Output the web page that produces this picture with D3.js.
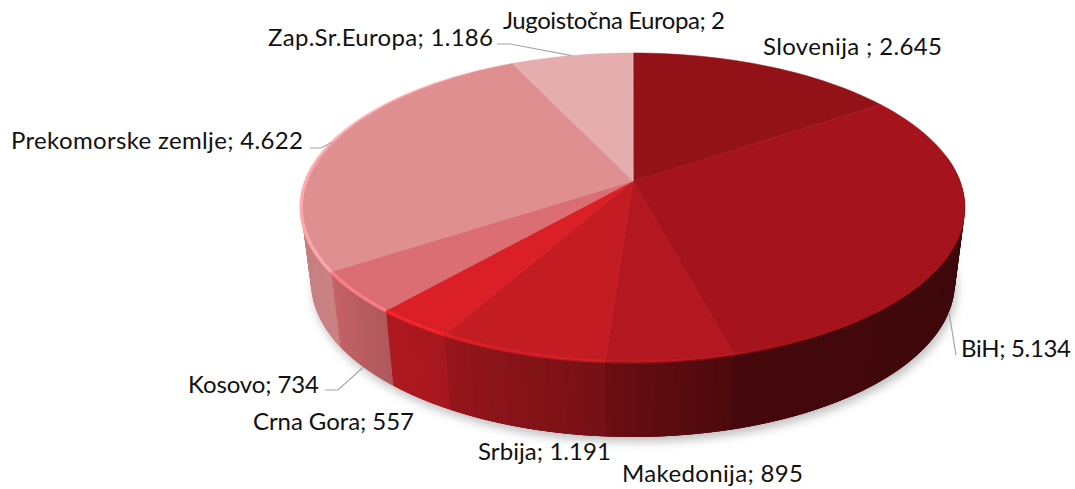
<!DOCTYPE html>
<html>
<head>
<meta charset="utf-8">
<script src="https://cdn.jsdelivr.net/npm/d3@7"></script>
<style>
  html, body { margin: 0; padding: 0; background: #fff; }
  svg { display: block; }
  text { font-family: Lato, "Open Sans", sans-serif; font-size: 24px; fill: #111; }
</style>
</head>
<body>
<script>
// Data
var categories = ["Slovenija ", "BiH", "Makedonija", "Srbija", "Crna Gora", "Kosovo", "Prekomorske zemlje", "Zap.Sr.Europa", "Jugoistočna Europa"];
var values = [2645, 5134, 895, 1191, 557, 734, 4622, 1186, 2];
var sliceColors = ["#921217", "#a5141d", "#b3171f", "#c41c23", "#da1f27", "#db6e72", "#e08f91", "#e5adae", "#e8b8b8"];

// Label placement: left edge, baseline and width of each label, same order as categories
var labelX = [763, 961, 622, 478, 253, 188, 11, 268, 503];
var labelY = [55, 357, 482, 460, 430, 393, 149, 46, 29];
var labelWidth = [179, 110, 181, 133, 161, 131, 292, 225, 222];

// Leader lines: which slice, the rim it ends on, and the free end of the line
var leaders = [
  { slice: 1, rim: "bottom", points: [[956, 355]] },
  { slice: 5, rim: "bottom", points: [[325, 390], [338, 390]] },
  { slice: 6, rim: "top", points: [[310, 148], [321, 148]] },
  { slice: 7, rim: "top", points: [[497, 44], [510, 44]] }
];

var svgWidth = 1075;
var svgHeight = 489;

var tilt = 0.1715;      // perspective strength
var wallDepth = 75;     // height of the pie on screen
var wallShrink = 0.97;  // bottom rim is further away so a bit narrower

var svg = d3.select("body")
  .append("svg")
  .attr("width", svgWidth)
  .attr("height", svgHeight);

var defs = svg.append("defs");
defs.append("filter").attr("id", "shadow")
  .attr("x", "-10%").attr("y", "-10%").attr("width", "120%").attr("height", "130%")
  .append("feGaussianBlur").attr("stdDeviation", 5);
defs.append("filter").attr("id", "soft")
  .append("feGaussianBlur").attr("stdDeviation", 0.7);

// Scales from the flattened unit circle to the screen
var xScale = d3.scaleLinear().domain([-1, 1]).range([633 - 327, 633 + 327]);
var yScale = d3.scaleLinear().domain([-1, 1]).range([181 - 150, 181 + 150]);

// How much darker the wall is than the top, by angle in degrees
var wallShade = d3.scaleLinear()
  .domain([90, 165, 184, 209, 221, 237, 270])
  .range([0.35, 0.42, 0.6, 0.76, 0.8, 0.9, 0.88]);

// Rim highlight strength by angle in degrees
var rimGlow = d3.scaleLinear()
  .domain([150, 195, 225, 270, 300, 335])
  .range([0, 0.6, 0.85, 0.95, 0.4, 0])
  .clamp(true);

function topPoint(angle) {
  var d = 1 + tilt * Math.cos(angle);
  return [xScale(Math.sin(angle) / d), yScale(-Math.cos(angle) / d)];
}

function bottomPoint(angle) {
  var p = topPoint(angle);
  var cx = xScale(0);
  return [cx + (p[0] - cx) * wallShrink, p[1] + wallDepth];
}

function sampleAngles(a0, a1, stepDeg) {
  var n = Math.max(1, Math.ceil((a1 - a0) / (stepDeg * Math.PI / 180)));
  return d3.range(n + 1).map(function(i) { return a0 + (a1 - a0) * i / n; });
}

var line = d3.line();
var deg = 180 / Math.PI;

var pie = d3.pie().sort(null).value(function(d) { return d.value; });
var arcs = pie(values.map(function(v, i) {
  return { name: categories[i], value: v, color: sliceColors[i] };
}));

// Soft shadow under the pie
svg.append("path")
  .attr("d", line(sampleAngles(0, 2 * Math.PI, 3).map(bottomPoint).map(function(p) { return [p[0] + 2, p[1] + 5]; })))
  .attr("fill", "#8c8c8c")
  .attr("fill-opacity", 0.55)
  .attr("filter", "url(#shadow)");

// Wall, as thin strips so the shading steps along the rim.
// Each strip runs on under the next one so no seams show between them.
var wall = svg.append("g");
arcs.forEach(function(arc) {
  var angles = sampleAngles(arc.startAngle, arc.endAngle, 1.5);
  d3.pairs(angles).forEach(function(pair) {
    var mid = (pair[0] + pair[1]) / 2 * deg;
    if (mid < 80 || mid > 280) return;
    var base = d3.rgb(arc.data.color);
    var k = wallShade(Math.max(90, Math.min(270, mid)));
    var fill = d3.rgb(base.r * k, base.g * k, base.b * k).formatRgb();
    var over = pair[1] + 2 * (pair[1] - pair[0]);
    wall.append("path")
      .attr("d", line([topPoint(pair[0]), topPoint(over), bottomPoint(over), bottomPoint(pair[0])]) + "Z")
      .attr("fill", fill);
  });
});

// Top face of each slice
svg.append("g").selectAll("path")
  .data(arcs)
  .enter()
  .append("path")
  .attr("d", function(d) {
    var pts = sampleAngles(d.startAngle, d.endAngle, 2).map(topPoint);
    return line([[xScale(0), yScale(0)]].concat(pts)) + "Z";
  })
  .attr("fill", function(d) { return d.data.color; })
  .attr("stroke", function(d) { return d.data.color; })
  .attr("stroke-width", 0.5);

// Light rim on the front and left edge, a brighter tone of each slice
var rim = svg.append("g").attr("filter", "url(#soft)");
arcs.forEach(function(arc) {
  d3.pairs(sampleAngles(arc.startAngle, arc.endAngle, 2)).forEach(function(pair) {
    var glow = rimGlow((pair[0] + pair[1]) / 2 * deg);
    if (glow <= 0) return;
    rim.append("path")
      .attr("d", line([topPoint(pair[0]), topPoint(pair[1])]))
      .attr("fill", "none")
      .attr("stroke", d3.rgb(arc.data.color).brighter(0.5).formatRgb())
      .attr("stroke-opacity", glow)
      .attr("stroke-width", 3.5);
  });
});

// Leader lines
svg.append("g").selectAll("path")
  .data(leaders)
  .enter()
  .append("path")
  .attr("d", function(d) {
    var arc = arcs[d.slice];
    var mid = (arc.startAngle + arc.endAngle) / 2;
    var end = d.rim === "bottom" ? bottomPoint(mid) : topPoint(mid);
    return line(d.points.concat([end]));
  })
  .attr("fill", "none")
  .attr("stroke", "#a6a6a6")
  .attr("stroke-width", 1.2);

// Labels use a dot as thousands separator
var numberFormat = d3.formatLocale({ decimal: ",", thousands: ".", grouping: [3], currency: ["", ""] }).format(",");

svg.append("g").selectAll("text")
  .data(arcs)
  .enter()
  .append("text")
  .attr("x", function(d, i) { return labelX[i]; })
  .attr("y", function(d, i) { return labelY[i]; })
  .attr("textLength", function(d, i) { return labelWidth[i]; })
  .attr("lengthAdjust", "spacing")
  .style("white-space", "pre")
  .text(function(d) { return d.data.name + "; " + numberFormat(d.data.value); });
</script>
</body>
</html>
